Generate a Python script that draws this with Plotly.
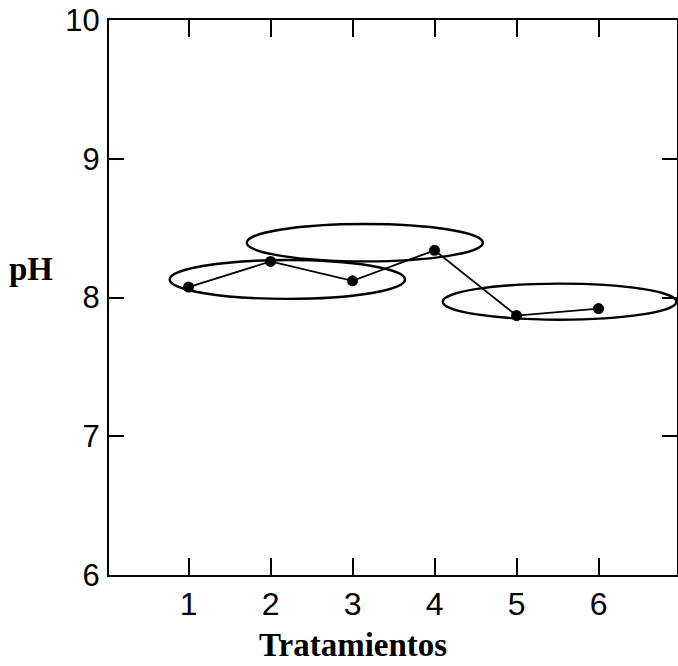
import plotly.graph_objects as go

# Data
treatments = [1, 2, 3, 4, 5, 6]
ph_values = [8.075, 8.26, 8.12, 8.34, 7.87, 7.92]
x_tick_labels = ["1", "2", "3", "4", "5", "6"]
y_ticks = [6, 7, 8, 9, 10]

# Grouping ellipses (data coordinates: x0, x1, y0, y1)
ellipse_x0 = [0.77, 1.71, 4.10]
ellipse_x1 = [3.64, 4.59, 6.95]
ellipse_y0 = [7.99, 8.26, 7.84]
ellipse_y1 = [8.27, 8.53, 8.10]

fig = go.Figure()
fig.add_trace(go.Scatter(
    x=treatments, y=ph_values, mode="lines+markers",
    line=dict(color="black", width=1.8),
    marker=dict(color="black", size=11, symbol="circle"),
    showlegend=False,
))

for x0, x1, y0, y1 in zip(ellipse_x0, ellipse_x1, ellipse_y0, ellipse_y1):
    fig.add_shape(type="circle", xref="x", yref="y",
                  x0=x0, x1=x1, y0=y0, y1=y1,
                  line=dict(color="black", width=2.4), layer="above")

fig.update_layout(
    width=678, height=666,
    margin=dict(l=109, r=1, t=20, b=91),
    paper_bgcolor="white", plot_bgcolor="white",
    font=dict(family="Liberation Sans, Arial, sans-serif", color="black", size=32),
)
fig.update_xaxes(
    range=[0.03, 6.957], tickvals=treatments, ticktext=x_tick_labels,
    ticks="inside", ticklen=17, tickwidth=2, tickcolor="black",
    showline=True, linecolor="black", linewidth=2, mirror="ticks",
    showgrid=False, zeroline=False, ticklabelstandoff=0,
    ticklabeloverflow="allow", automargin=False,
    tickfont=dict(size=32),
)
fig.update_yaxes(
    range=[6, 10], tickvals=y_ticks,
    ticks="inside", ticklen=15, tickwidth=2, tickcolor="black",
    showline=True, linecolor="black", linewidth=2, mirror="ticks",
    showgrid=False, zeroline=False, ticklabelstandoff=1,
    ticklabeloverflow="allow", automargin=False,
    tickfont=dict(size=31),
)

fig.add_annotation(text="<b>Tratamientos</b>", xref="x", yref="paper",
                   x=3.0, y=-0.1254, yanchor="middle", xanchor="center",
                   showarrow=False,
                   font=dict(family="Liberation Serif, Times New Roman, serif", size=33, color="black"))
fig.add_annotation(text="<b>pH</b>", xref="paper", yref="paper",
                   x=-0.137, y=0.552, yanchor="middle", xanchor="center",
                   showarrow=False,
                   font=dict(family="Liberation Serif, Times New Roman, serif", size=33, color="black"))

fig.write_html("out.html", config={"displayModeBar": False},
               post_script="document.body.style.margin='0';")
